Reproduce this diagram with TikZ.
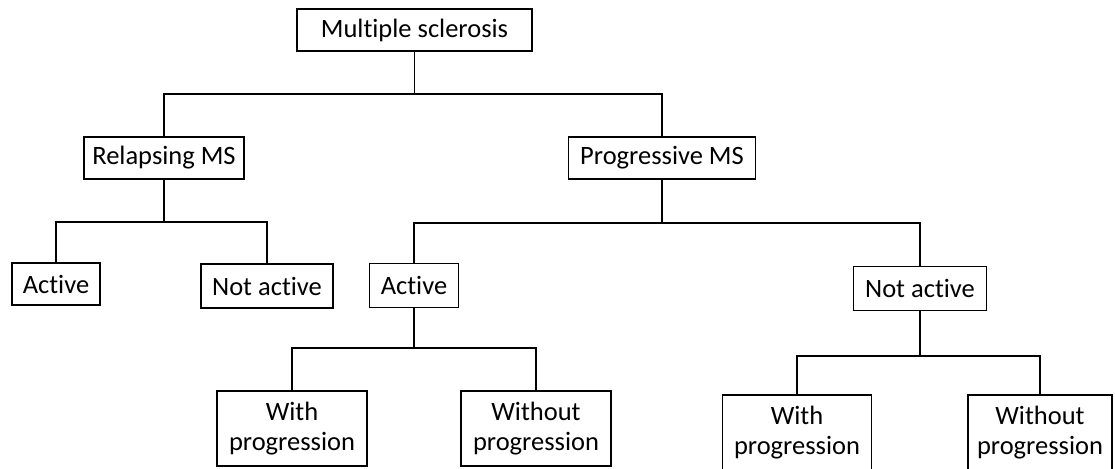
\documentclass[tikz,border=0pt]{standalone}
\usepackage{fontspec}
\setmainfont{Carlito}[Ligatures={NoCommon}]
\begin{document}
\begin{tikzpicture}[x=1pt,y=-1pt,
  box/.style={draw, line width=1.2pt, inner sep=0pt, align=center,
    font=\fontsize{26.5}{30}\selectfont},
  conn/.style={line width=1.2pt}]
\useasboundingbox (0,0) rectangle (1115,468);
\clip (0,0) rectangle (1115,468);
\node[box, minimum width=235pt, minimum height=42pt] (ms) at (414.5,30) {Multiple sclerosis};
\node[box, minimum width=160pt, minimum height=42pt] (rel) at (164,158) {Relapsing MS};
\node[box, minimum width=187pt, minimum height=42pt] (prog) at (662,158) {Progressive MS};
\node[box, minimum width=88pt, minimum height=42pt] (a1) at (56,284) {Active};
\node[box, minimum width=132pt, minimum height=44pt] (n1) at (267,286) {Not active};
\node[box, minimum width=89pt, minimum height=44pt] (a2) at (414,285.5) {Active};
\node[box, minimum width=133pt, minimum height=44pt] (n2) at (920,288.5) {Not active};
\node[box, minimum width=150pt, minimum height=75pt] (w1) at (292,428.5) {With\\progression};
\node[box, minimum width=150pt, minimum height=75pt] (wo1) at (536,428.5) {Without\\progression};
\node[box, minimum width=149pt, minimum height=75pt] (w2) at (797,432.5) {With\\progression};
\node[box, minimum width=144pt, minimum height=75pt] (wo2) at (1040,432.5) {Without\\progression};
\coordinate (b1) at (414.5,94);
\coordinate (b2) at (164,222);
\coordinate (b3) at (662,223);
\coordinate (b4) at (414,348);
\coordinate (b5) at (920,356);
\draw[conn] (ms.south) -- (b1);
\draw[conn] (b1) -| (rel.north);
\draw[conn] (b1) -| (prog.north);
\draw[conn] (rel.south) -- (b2);
\draw[conn] (b2) -| (a1.north);
\draw[conn] (b2) -| (n1.north);
\draw[conn] (prog.south) -- (b3);
\draw[conn] (b3) -| (a2.north);
\draw[conn] (b3) -| (n2.north);
\draw[conn] (a2.south) -- (b4);
\draw[conn] (b4) -| (w1.north);
\draw[conn] (b4) -| (wo1.north);
\draw[conn] (n2.south) -- (b5);
\draw[conn] (b5) -| (w2.north);
\draw[conn] (b5) -| (wo2.north);
\end{tikzpicture}
\end{document}
